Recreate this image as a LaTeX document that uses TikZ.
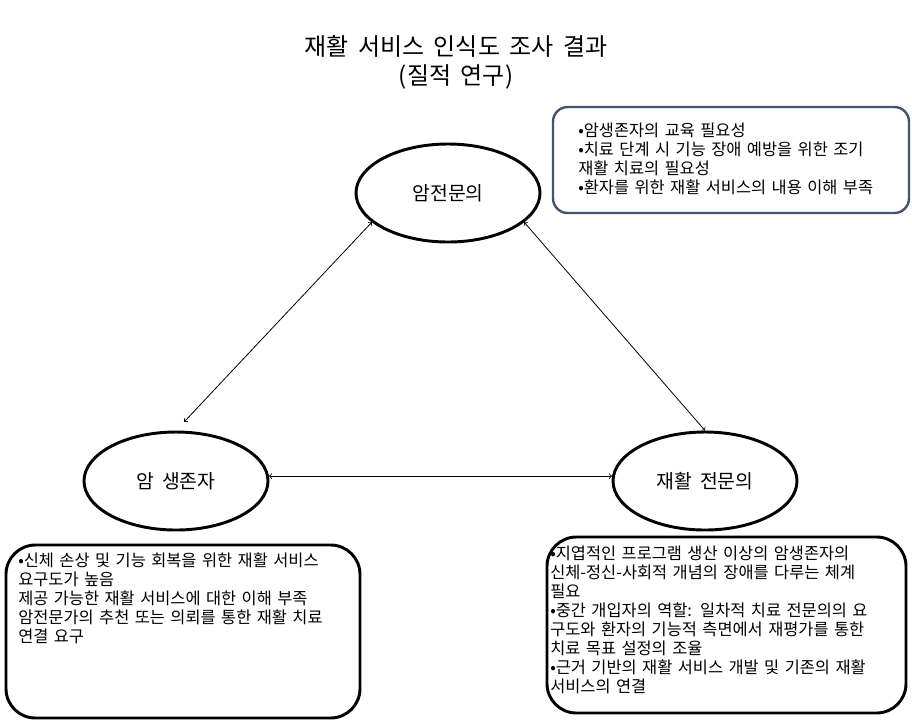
\documentclass[tikz,border=0pt]{standalone}
\usepackage{fontspec}
\setmainfont{Noto Sans CJK KR}[WordSpace=1.8]
\usetikzlibrary{shapes.geometric}
\definecolor{slate}{RGB}{67,83,112}

\begin{document}
\begin{tikzpicture}[x=0.75pt,y=-0.75pt,
    party/.style={ellipse,draw,line width=2.2pt,minimum width=138pt,minimum height=73.5pt,inner sep=0pt,font=\fontsize{14.5}{17}\selectfont},
    notebox/.style={draw,line width=2.2pt,rounded corners=22pt,inner sep=0pt},
    notetext/.style={anchor=base west,inner sep=0pt,text width=300pt,align=left,font=\fontsize{12.3}{14.3}\selectfont},
    link/.style={<->,line width=0.6pt}]
    \useasboundingbox (0,0) rectangle (912,722);
    \node[align=center,font=\fontsize{18}{21.75}\selectfont] (title) at (456,62) {재활 서비스 인식도 조사 결과\\(질적 연구)};
    \node[party] (onc) at (448,193) {암전문의};
    \node[party] (surv) at (176,481) {암 생존자};
    \node[party] (rehab) at (705,481) {재활 전문의};
    \draw[link,shorten >=9pt] (onc.201) -- (surv.north);
    \draw[link] (onc.339) -- (rehab.north);
    \draw[link] (surv.3) -- (rehab.177);
    \node[notebox,draw=slate,line width=1.8pt,rounded corners=11pt,minimum width=267pt,minimum height=79.5pt] (oncbox) at (731,160) {};
    \node[notetext] (oncnote) at (578,136) {•암생존자의 교육 필요성\\•치료 단계 시 기능 장애 예방을 위한 조기\\재활 치료의 필요성\\•환자를 위한 재활 서비스의 내용 이해 부족};
    \node[notebox,minimum width=265.5pt,minimum height=129.75pt] (survbox) at (183,631.5) {};
    \node[notetext] (survnote) at (18,566) {•신체 손상 및 기능 회복을 위한 재활 서비스\\요구도가 높음\\제공 가능한 재활 서비스에 대한 이해 부족\\암전문가의 추천 또는 의뢰를 통한 재활 치료\\연결 요구};
    \node[notebox,minimum width=269.25pt,minimum height=132pt] (rehabbox) at (726.5,625) {};
    \node[notetext] (rehabnote) at (550,559) {•지엽적인 프로그램 생산 이상의 암생존자의\\신체-정신-사회적 개념의 장애를 다루는 체계\\필요\\•중간 개입자의 역할: 일차적 치료 전문의의 요\\구도와 환자의 기능적 측면에서 재평가를 통한\\치료 목표 설정의 조율\\•근거 기반의 재활 서비스 개발 및 기존의 재활\\서비스의 연결};
\end{tikzpicture}
\end{document}
